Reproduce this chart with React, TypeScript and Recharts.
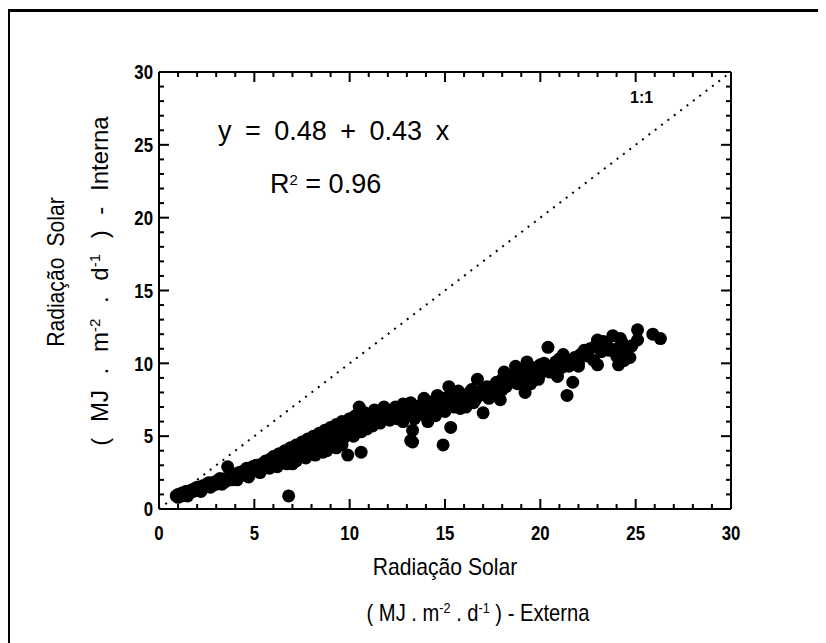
import React from "react";
import {
    ScatterChart,
    Scatter,
    XAxis,
    YAxis,
    ReferenceLine,
} from "recharts";

// radiação solar externa (x) e interna (y), MJ m-2 d-1
const externa = [
    0.9, 1.0, 1.1, 1.2, 1.3, 1.4, 1.5, 1.6, 1.7, 1.8, 1.9, 2.0, 2.1, 2.2, 2.3, 2.4, 2.5, 2.6, 2.8, 2.9,
    3.0, 3.1, 3.3, 3.4, 3.5, 3.6, 3.7, 3.8, 3.9, 4.0, 4.2, 4.3, 4.4, 4.5, 4.6, 4.8, 4.9, 5.0, 5.1, 5.2,
    5.4, 5.5, 5.6, 5.7, 5.8, 5.9, 6.0, 6.1, 6.2, 6.3, 6.4, 6.5, 6.6, 6.7, 6.8, 6.8, 6.9, 7.0, 7.1, 7.2,
    7.3, 7.4, 7.5, 7.6, 7.7, 7.8, 7.9, 8.0, 8.1, 8.2, 8.3, 8.4, 8.5, 8.6, 8.7, 8.8, 8.9, 9.0, 9.1, 9.2,
    9.3, 9.4, 9.5, 9.6, 9.7, 9.8, 9.9, 10.0, 10.1, 10.2, 10.3, 10.5, 10.6, 10.6, 10.7, 10.8, 10.9, 11.0, 11.2, 11.3,
    11.4, 11.6, 11.7, 11.8, 12.0, 12.1, 12.2, 12.4, 12.5, 12.6, 12.8, 12.9, 13.0, 13.2, 13.2, 13.3, 13.3, 13.4, 13.5, 13.7,
    13.8, 14.0, 14.1, 14.2, 14.4, 14.5, 14.7, 14.9, 14.9, 15.0, 15.2, 15.3, 15.4, 15.6, 15.8, 16.0, 16.1, 16.3, 16.5, 16.7,
    16.8, 17.0, 17.1, 17.3, 17.5, 17.7, 17.9, 18.1, 18.2, 18.4, 18.7, 18.8, 19.0, 19.2, 19.3, 19.5, 19.6, 19.8, 20.0, 20.3,
    20.4, 20.6, 20.9, 21.0, 21.2, 21.4, 21.5, 21.7, 21.8, 22.0, 22.3, 22.5, 22.8, 23.0, 23.0, 23.2, 23.5, 23.8, 24.0, 24.1,
    24.3, 24.5, 24.7, 25.1, 25.1, 25.9, 26.3,
    1.0, 1.2, 1.4, 1.6, 1.8, 2.0, 2.3, 2.6, 3.0, 3.2, 3.5, 4.0, 4.5, 5.0, 5.5, 6.0, 6.5, 7.0, 7.5, 8.0,
    8.5, 9.0, 9.5, 10.0, 11.0, 12.0, 12.8, 14.0, 15.0, 16.0, 17.0, 18.0, 19.0, 20.0, 22.0, 24.0,
    10.2, 10.4, 10.8, 11.1, 11.5, 11.9, 12.3, 12.7, 13.1, 13.6, 13.9, 14.3, 14.6, 14.8, 15.1, 15.5, 15.7, 15.9, 16.2, 16.4,
    16.6, 16.9, 17.2, 17.4, 17.6, 17.8, 18.0, 18.3, 18.5, 18.9, 19.1, 19.4, 19.7, 19.9, 20.2, 20.5, 20.8, 21.1, 21.3, 21.6,
    22.1, 22.6, 22.9, 23.3, 23.6, 24.2, 24.4, 24.8,
    1.5, 2.2, 2.7, 3.3, 3.8, 4.1, 4.7, 5.3, 5.8, 6.2, 6.7, 7.2, 7.7, 8.2, 8.6, 9.3, 9.6,
];
const interna = [
    0.9, 0.8, 1.0, 0.9, 1.1, 1.0, 1.2, 1.1, 1.3, 1.2, 1.4, 1.3, 1.5, 1.4, 1.6, 1.5, 1.7, 1.6, 1.8, 1.7,
    1.9, 1.8, 2.0, 1.9, 2.1, 2.9, 2.2, 2.0, 2.4, 2.2, 2.5, 2.3, 2.6, 2.4, 2.8, 2.5, 2.9, 2.7, 3.0, 2.6,
    3.1, 2.8, 3.3, 2.9, 3.4, 3.0, 3.6, 3.1, 3.3, 3.8, 3.2, 3.5, 4.0, 3.4, 0.9, 3.7, 4.2, 3.1, 3.9, 4.4,
    3.6, 4.1, 4.6, 3.8, 4.3, 4.8, 3.9, 4.5, 5.0, 4.1, 4.6, 5.2, 4.3, 4.8, 5.4, 4.0, 5.0, 5.6, 4.5, 5.2,
    5.8, 4.7, 5.4, 6.0, 4.9, 5.6, 3.7, 6.2, 5.1, 5.8, 6.4, 7.0, 3.9, 5.3, 6.0, 6.6, 5.5, 6.2, 5.7, 6.8,
    6.3, 5.9, 6.6, 7.0, 6.8, 6.1, 6.5, 7.0, 6.2, 6.6, 7.2, 6.4, 6.9, 7.3, 4.7, 5.4, 4.6, 6.2, 7.0, 7.1,
    6.5, 7.2, 6.0, 6.8, 7.4, 6.4, 7.0, 4.4, 7.6, 6.7, 8.4, 5.6, 7.2, 7.8, 6.9, 7.5, 7.0, 8.0, 7.3, 8.9,
    7.8, 6.6, 8.3, 7.6, 8.1, 8.7, 7.5, 9.4, 8.4, 8.9, 9.8, 8.6, 9.2, 8.0, 10.1, 8.6, 9.6, 9.0, 9.9, 9.5,
    11.1, 9.8, 9.1, 10.3, 10.6, 7.8, 9.8, 8.7, 10.4, 10.0, 10.9, 10.5, 10.2, 11.6, 9.9, 10.8, 11.2, 11.9, 10.5, 9.9,
    11.4, 10.8, 10.4, 11.6, 12.3, 12.0, 11.7,
    1.0, 1.1, 1.2, 1.2, 1.3, 1.5, 1.5, 1.8, 1.7, 2.1, 1.9, 2.4, 2.6, 2.9, 3.1, 3.2, 3.7, 3.6, 4.0, 4.2,
    4.6, 4.9, 5.0, 5.4, 5.8, 6.3, 6.0, 6.6, 7.3, 7.8, 7.9, 8.2, 8.8, 9.3, 9.8, 11.0,
    5.0, 5.6, 5.9, 6.5, 6.1, 6.4, 6.8, 6.5, 6.6, 6.8, 7.6, 7.0, 7.8, 6.9, 7.6, 7.0, 8.1, 7.3, 7.7, 8.2,
    7.5, 8.1, 8.4, 7.9, 8.5, 8.0, 8.9, 8.6, 9.2, 9.0, 9.6, 9.3, 9.7, 8.9, 10.0, 9.4, 10.1, 9.7, 10.3, 10.1,
    10.6, 11.0, 11.2, 11.5, 10.9, 11.7, 10.2, 11.2,
    0.9, 1.2, 1.5, 1.7, 2.3, 2.0, 2.2, 2.5, 2.8, 2.9, 3.1, 3.3, 3.5, 3.7, 3.9, 4.2, 4.4,
];

const allTicks = [
    0, 1, 2, 3, 4, 5, 6, 7, 8, 9, 10, 11, 12, 13, 14, 15, 16, 17, 18, 19, 20,
    21, 22, 23, 24, 25, 26, 27, 28, 29, 30,
];
const majorTicks = [0, 5, 10, 15, 20, 25, 30];
const axisMin = 0;
const axisMax = 30;
const oneToOne = [
    { x: 0, y: 0 },
    { x: 30, y: 30 },
];

const points = externa.map((x, i) => ({ x, y: interna[i] }));

// posições dos traços de tick nos quatro lados do quadro
const bottomMarks = allTicks.map((v) => ({ x: v, y: axisMin, v }));
const topMarks = allTicks.map((v) => ({ x: v, y: axisMax, v }));
const leftMarks = allTicks.map((v) => ({ x: axisMin, y: v, v }));
const rightMarks = allTicks.map((v) => ({ x: axisMax, y: v, v }));

const font = "'Liberation Sans', Arial, sans-serif";

const markLen = (v: number) => (majorTicks.includes(v) ? 10 : 5);

// dir: 0 = para cima, 1 = para baixo, 2 = para a direita, 3 = para a esquerda
const tickShape = (dir: number) => (props: any) => {
    const { cx, cy, payload } = props;
    const len = markLen(payload.v);
    if (dir === 0) return <rect x={cx - 1} y={cy - len} width={2} height={len} fill="#000" />;
    if (dir === 1) return <rect x={cx - 1} y={cy} width={2} height={len} fill="#000" />;
    if (dir === 2) return <rect x={cx} y={cy - 1} width={len} height={2} fill="#000" />;
    return <rect x={cx - len} y={cy - 1} width={len} height={2} fill="#000" />;
};

const TickLabel = ({ x, y, anchor, v }: any) => (
    <text transform={`translate(${x},${y}) scale(0.8,1)`} textAnchor={anchor}
        dominantBaseline="central" fontFamily={font} fontWeight="bold" fontSize={21} fill="#000">
        {v}
    </text>
);

const BottomTick = (props: any) => {
    const { x, y, payload } = props;
    const v = payload.value;
    return majorTicks.includes(v) ? <TickLabel x={x} y={y + 24} anchor="middle" v={v} /> : <g />;
};

const LeftTick = (props: any) => {
    const { x, y, payload } = props;
    const v = payload.value;
    return majorTicks.includes(v) ? <TickLabel x={x - 6} y={y} anchor="end" v={v} /> : <g />;
};

const Dot = (props: any) => <circle cx={props.cx} cy={props.cy} r={6.5} fill="#000" />;
const NoDot = () => <g />;

const txt: React.CSSProperties = {
    position: "absolute",
    fontFamily: font,
    color: "#000",
    whiteSpace: "nowrap",
    lineHeight: 1,
};

const sup: React.CSSProperties = { fontSize: 15, verticalAlign: "0.55em", lineHeight: 0 };

export default function App() {
    return (
        <div style={{ position: "relative", width: 818, height: 635, background: "#fff" }}>
            <ScatterChart
                width={818}
                height={635}
                margin={{ top: 54, right: 85, bottom: 94, left: 111 }}
            >
                <XAxis xAxisId="b" type="number" dataKey="x" domain={[axisMin, axisMax]} ticks={allTicks}
                    interval={0} height={40} tickSize={0} tickMargin={0} tick={<BottomTick />}
                    tickLine={false} axisLine={{ stroke: "#000", strokeWidth: 2 }} />
                <XAxis xAxisId="t" orientation="top" type="number" dataKey="x" domain={[axisMin, axisMax]}
                    height={10} tick={false} tickLine={false} axisLine={{ stroke: "#000", strokeWidth: 2 }} />
                <YAxis yAxisId="l" type="number" dataKey="y" domain={[axisMin, axisMax]} ticks={allTicks}
                    interval={0} width={40} tickSize={0} tickMargin={0} tick={<LeftTick />}
                    tickLine={false} axisLine={{ stroke: "#000", strokeWidth: 2 }} />
                <YAxis yAxisId="r" orientation="right" type="number" dataKey="y" domain={[axisMin, axisMax]}
                    width={10} tick={false} tickLine={false} axisLine={{ stroke: "#000", strokeWidth: 2 }} />

                <ReferenceLine xAxisId="b" yAxisId="l" segment={oneToOne} stroke="#000"
                    strokeWidth={2} strokeDasharray="2 6" ifOverflow="visible" />

                <Scatter xAxisId="t" yAxisId="r" data={points} shape={<NoDot />} isAnimationActive={false} />
                <Scatter xAxisId="b" yAxisId="l" data={bottomMarks} shape={tickShape(0)} isAnimationActive={false} />
                <Scatter xAxisId="b" yAxisId="l" data={topMarks} shape={tickShape(1)} isAnimationActive={false} />
                <Scatter xAxisId="b" yAxisId="l" data={leftMarks} shape={tickShape(2)} isAnimationActive={false} />
                <Scatter xAxisId="b" yAxisId="l" data={rightMarks} shape={tickShape(3)} isAnimationActive={false} />
                <Scatter xAxisId="b" yAxisId="l" data={points} shape={<Dot />} isAnimationActive={false} />
            </ScatterChart>

            {/* borda do recorte */}
            <div style={{ position: "absolute", left: 0, top: 1, width: 818, height: 634,
                borderTop: "3px solid #000", borderLeft: "2px solid #000", boxSizing: "border-box",
                pointerEvents: "none" }} />

            <div style={{ ...txt, left: 210, top: 110, fontSize: 27, wordSpacing: 6 }}>
                y = 0.48 + 0.43 x
            </div>
            <div style={{ ...txt, left: 262, top: 163, fontSize: 27 }}>
                R<span style={sup}>2</span> = 0.96
            </div>
            <div style={{ ...txt, left: 622, top: 82, fontSize: 16, fontWeight: "bold" }}>1:1</div>

            <div style={{ ...txt, left: 437, top: 559, fontSize: 24,
                transform: "translate(-50%, -50%) scaleX(0.88)" }}>
                Radiação Solar
            </div>
            <div style={{ ...txt, left: 470, top: 605, fontSize: 24,
                transform: "translate(-50%, -50%) scaleX(0.84)" }}>
                ( MJ . m<span style={sup}>-2</span> . d<span style={sup}>-1</span> ) - Externa
            </div>
            <div style={{ ...txt, left: 48, top: 264, fontSize: 24, wordSpacing: 6,
                transform: "translate(-50%, -50%) rotate(-90deg) scaleX(0.88)" }}>
                Radiação Solar
            </div>
            <div style={{ ...txt, left: 92, top: 273, fontSize: 24, wordSpacing: 9,
                transform: "translate(-50%, -50%) rotate(-90deg)" }}>
                ( MJ . m<span style={sup}>-2</span> . d<span style={sup}>-1</span> ) - Interna
            </div>
        </div>
    );
}
